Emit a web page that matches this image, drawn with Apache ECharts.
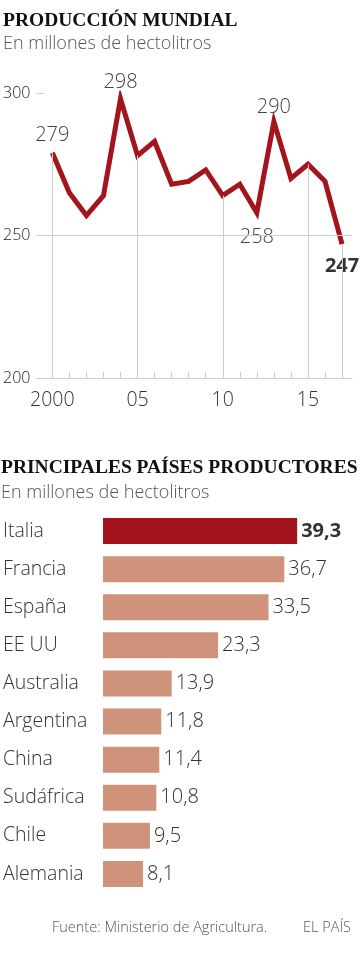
<!DOCTYPE html>
<html><head><meta charset="utf-8">
<script src="https://cdn.jsdelivr.net/npm/echarts@6/dist/echarts.min.js"></script>
<style>html,body{margin:0;padding:0;background:#fff}#c{width:360px;height:953px}</style>
</head><body><div id="c"></div>
<script>
const years = [2000,2001,2002,2003,2004,2005,2006,2007,2008,2009,2010,2011,2012,2013,2014,2015,2016,2017];
const production = [279,265,257,264,298,278,283,268,269,273,264,268,258,290,270,275,269,247];
const yearLabels = [2000,2005,2010,2015];
const dropYears = [2000,2005,2010,2015,2017];
const yTicks = [200,250,300];
const labelled = {2000:'top',2004:'top',2013:'top',2012:'bottom',2017:'bottom'};
const countries = ['Italia','Francia','España','EE UU','Australia','Argentina','China','Sudáfrica','Chile','Alemania'];
const countryValues = [39.3,36.7,33.5,23.3,13.9,11.8,11.4,10.8,9.5,8.1];

const SANS = '"Open Sans", Roboto, sans-serif';
const SERIF = '"Liberation Serif", "DejaVu Serif", serif';
const RED = '#a3141c', SALMON = '#cf937b', GRID = '#cccccc';
const W = 300;

const chart = echarts.init(document.getElementById('c'), null, {renderer:'canvas'});
const fmt = v => String(v).replace('.', ',');
const dist = {2000:8, 2004:6, 2013:4, 2012:15, 2017:12};

const lineData = years.map((y,i) => {
  const d = {value:[y, production[i]]};
  if (labelled[y]) {
    const bold = y === 2017;
    d.label = {show:true, position: labelled[y], distance: dist[y],
      formatter: String(production[i]), fontSize: 20, fontFamily: SANS,
      fontWeight: bold ? 'bold' : W, color: bold ? '#333' : '#444'};
  }
  return d;
});

const drops = dropYears.map(y => [{coord:[y, production[years.indexOf(y)]]},{coord:[y, 200]}]);

chart.setOption({
  animation:false,
  title:[
    {text:'PRODUCCIÓN MUNDIAL', left:3, top:11, padding:0, textStyle:{fontFamily:SERIF, fontWeight:'bold', fontSize:19.5, color:'#111'}},
    {text:'En millones de hectolitros', left:3, top:35, padding:0, textStyle:{fontFamily:SANS, fontWeight:W, fontSize:18, color:'#555'}},
    {text:'PRINCIPALES PAÍSES PRODUCTORES', left:1, top:458, padding:0, textStyle:{fontFamily:SERIF, fontWeight:'bold', fontSize:19.5, color:'#111'}},
    {text:'En millones de hectolitros', left:1, top:484, padding:0, textStyle:{fontFamily:SANS, fontWeight:W, fontSize:18, color:'#555'}},
    {text:'Fuente: Ministerio de Agricultura.', left:52, top:920, padding:0, textStyle:{fontFamily:SANS, fontWeight:W, fontSize:14.5, color:'#555'}},
    {text:'EL PAÍS', left:303, top:920, padding:0, textStyle:{fontFamily:SANS, fontWeight:W, fontSize:14.5, color:'#555'}}
  ],
  grid:[
    {left:35, right:8, top:93, height:285},
    {left:100, width:250, top:512, height:381}
  ],
  xAxis:[
    {type:'value', gridIndex:0, min:1999.065, max:2017.584,
      axisLine:{show:true, lineStyle:{color:GRID, width:1}},
      axisTick:{show:true, inside:true, length:6, customValues: years, lineStyle:{color:GRID}},
      splitLine:{show:false},
      axisLabel:{customValues: yearLabels, margin:12, fontSize:19.5, fontFamily:SANS, fontWeight:W, color:'#333',
        formatter: v => v === 2000 ? '2000' : String(v).slice(2)}},
    {type:'value', gridIndex:1, min:0, max:50, show:false}
  ],
  yAxis:[
    {type:'value', gridIndex:0, min:200, max:300,
      axisLine:{show:false},
      axisTick:{show:true, inside:true, length:8, customValues:[300], lineStyle:{color:GRID}},
      splitLine:{show:false},
      axisLabel:{customValues: yTicks, margin:6, fontSize:16, fontFamily:SANS, fontWeight:W, color:'#222'}},
    {type:'category', gridIndex:1, data:countries, inverse:true,
      axisLine:{show:false}, axisTick:{show:false},
      axisLabel:{align:'left', margin:100, fontSize:19.5, fontFamily:SANS, fontWeight:W, color:'#333'}}
  ],
  series:[
    {type:'line', xAxisIndex:0, yAxisIndex:0, data:[], z:1, silent:true,
      markLine:{silent:true, symbol:['none','none'], label:{show:false},
        lineStyle:{color:GRID, width:1, type:'solid'},
        data: drops.concat([{yAxis:250}])}},
    {type:'line', xAxisIndex:0, yAxisIndex:0, data:lineData, z:3,
      showSymbol:true, symbol:'circle', symbolSize:0, lineStyle:{color:RED, width:5, join:'miter'}, itemStyle:{color:RED}},
    {type:'bar', xAxisIndex:1, yAxisIndex:1, barWidth:26,
      data: countryValues.map((v,i) => ({value:v,
        itemStyle:{color: i===0 ? RED : SALMON},
        label:{fontWeight: i===0 ? 'bold' : W}})),
      label:{show:true, position:'right', distance:4, fontSize:20, fontFamily:SANS, color:'#333',
        formatter: p => fmt(p.value)}}
  ]
});
</script></body></html>
